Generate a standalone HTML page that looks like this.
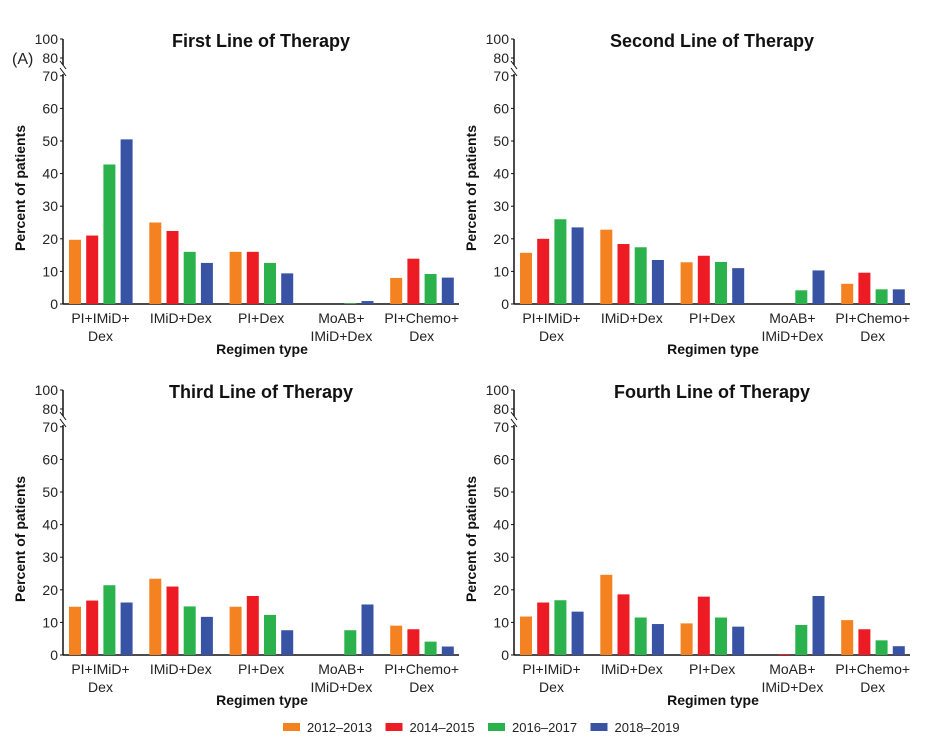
<!DOCTYPE html>
<html><head><meta charset="utf-8"><style>
body{margin:0;background:#fff;}
svg{display:block;font-family:"Liberation Sans",Arial,sans-serif;}
</style></head><body>
<svg id="chart" width="936" height="750" viewBox="0 0 936 750" xmlns="http://www.w3.org/2000/svg">
<text x="12" y="64" font-size="16" fill="#222">(A)</text>
<g id="panels"></g>
<g id="legend"></g>
</svg>
<script>
const categories = [["PI+IMiD+","Dex"],["IMiD+Dex"],["PI+Dex"],["MoAB+","IMiD+Dex"],["PI+Chemo+","Dex"]];
const seriesNames = ["2012–2013","2014–2015","2016–2017","2018–2019"];
const colors = ["#f58220","#ed1c24","#2bb24c","#3953a4"];
const yTicks = [0,10,20,30,40,50,60,70];
const yTicksUpper = [80,100];
const titles = ["First Line of Therapy","Second Line of Therapy","Third Line of Therapy","Fourth Line of Therapy"];
const line1 = [[19.7,21,42.8,50.5],[25,22.4,16,12.6],[16,16,12.6,9.4],[0,0,0.2,0.9],[8,13.9,9.2,8.1]];
const line2 = [[15.7,20,26,23.5],[22.8,18.4,17.4,13.5],[12.8,14.8,12.9,11],[0,0,4.2,10.3],[6.2,9.6,4.5,4.5]];
const line3 = [[14.8,16.7,21.4,16.1],[23.4,21,14.9,11.7],[14.8,18.1,12.3,7.6],[0,0,7.6,15.5],[9,7.9,4.1,2.6]];
const line4 = [[11.8,16.1,16.8,13.3],[24.6,18.6,11.5,9.5],[9.7,17.9,11.5,8.7],[0,0.3,9.2,18.1],[10.7,7.9,4.5,2.7]];
const panelData = [line1,line2,line3,line4];

const NS="http://www.w3.org/2000/svg";
function mk(tag,attrs,parent){const e=document.createElementNS(NS,tag);for(const k in attrs)e.setAttribute(k,attrs[k]);parent.appendChild(e);return e;}
const origins=[[63,304],[514,304],[63,655],[514,655]];
const root=document.getElementById('panels');
const unit=3.26;
function yScale(v,zero){ if(v<=70) return zero-v*unit; return zero-246-(v-80)*0.95; }

panelData.forEach((data,p)=>{
  const [ax,zero]=origins[p];
  const g=mk('g',{},root);
  
  
  const t=mk('text',{x:ax+198,y:zero-257,'font-size':18,'font-weight':'bold','text-anchor':'middle',fill:'#111'},g);
  t.textContent=titles[p];
  
  
  const ya=mk('path',{d:`M${ax} ${zero}V${zero-230} M${ax} ${zero-239}V${zero-265}`,stroke:'#111','stroke-width':1.5,fill:'none'},g);
  
  
  const br=mk('path',{d:`M${ax-3} ${zero-236}L${ax+3} ${zero-228} M${ax-3} ${zero-243}L${ax+3} ${zero-235}`,stroke:'#111','stroke-width':1,fill:'none'},g);
  
  
  const xa=mk('line',{x1:ax,x2:ax+396,y1:zero,y2:zero,stroke:'#111','stroke-width':1.5},g);
  
  
  yTicks.concat(yTicksUpper).forEach(v=>{
    const y=yScale(v,zero);
    mk('line',{x1:ax-3,x2:ax,y1:y,y2:y,stroke:'#111'},g);
    const tl=mk('text',{x:ax-5,y:y+5,'font-size':14,'text-anchor':'end',fill:'#222'},g);
    tl.textContent=v;
    
    
  });
  const yt=mk('text',{transform:`translate(${ax-38},${zero-116}) rotate(-90)`,'font-size':14,'font-weight':'bold','text-anchor':'middle',fill:'#111'},g);
  yt.textContent='Percent of patients';
  
  
  const xt=mk('text',{x:ax+199,y:zero+50,'font-size':14,'font-weight':'bold','text-anchor':'middle',fill:'#111'},g);
  xt.textContent='Regimen type';
  
  
  categories.forEach((cat,ci)=>{
    const gx=ax+6+ci*80.3;
    data[ci].forEach((v,si)=>{
      const y=yScale(v,zero);
      const r=mk('rect',{x:gx+si*17.2,y:y,width:12,height:zero-y,fill:colors[si]},g);
      
      
    });
    cat.forEach((ln,li)=>{
      const cl=mk('text',{x:gx+31.5,y:zero+19+li*18,'font-size':14,'text-anchor':'middle',fill:'#222'},g);
      cl.textContent=ln;
      
      
    });
  });
});
const lg=document.getElementById('legend');
seriesNames.forEach((n,i)=>{
  const x=283+i*102.5;
  const s=mk('rect',{x:x,y:723,width:17,height:8,fill:colors[i]},lg);
  
  
  const t=mk('text',{x:x+24,y:732,'font-size':13,fill:'#222'},lg);
  t.textContent=n;
  
  
});
</script>
</body></html>
